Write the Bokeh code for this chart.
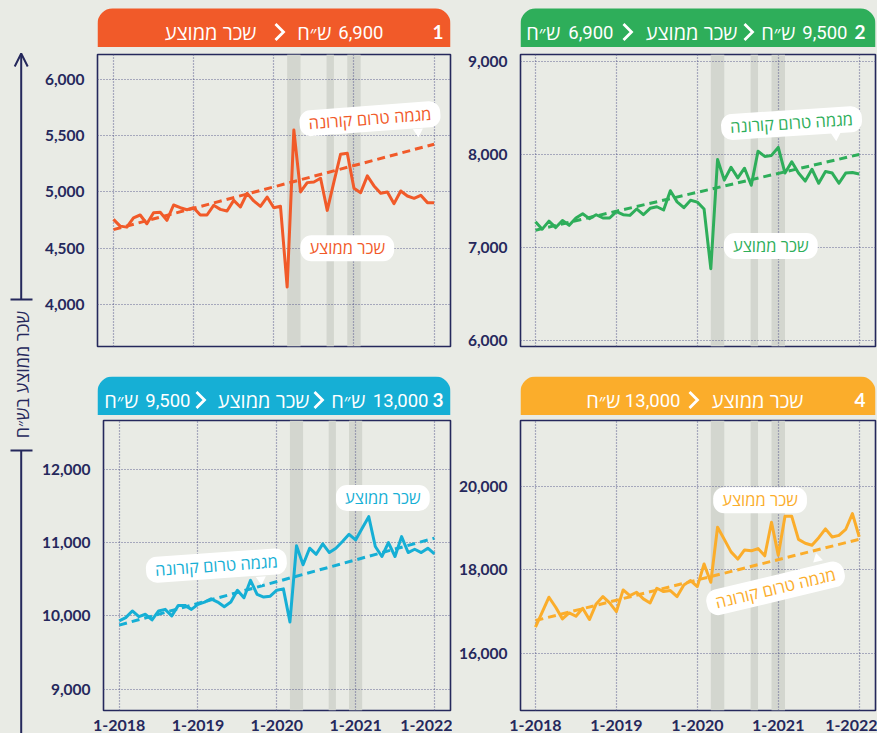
import math
from bokeh.plotting import figure
from bokeh.models import (Range1d, FixedTicker, NumeralTickFormatter, BoxAnnotation,
                          Label, Arrow, OpenHead)
from bokeh.layouts import row, column
from bokeh.embed import file_html
from bokeh.resources import INLINE
from bokeh.core.properties import value

# ---------------- data ----------------
months = list(range(49))                      # Jan 2018 .. Jan 2022
x_ticks = [0, 12, 24, 36, 48]
x_tick_labels = ["1-2018", "1-2019", "1-2020", "1-2021", "1-2022"]
lockdown_start = [26.0, 31.9, 35.0]
lockdown_end = [28.0, 33.0, 37.0]
trend_x = [0, 48]

wage_1 = [4756, 4696, 4687, 4770, 4795, 4717, 4815, 4820, 4747, 4884,
          4860, 4842, 4860, 4795, 4795, 4881, 4845, 4830, 4925, 4866,
          4988, 4920, 4872, 4955, 4860, 4872, 4154, 5551, 5000, 5083,
          5089, 5122, 4836, 5090, 5336, 5345, 5033, 4994, 5143, 5054,
          4988, 5000, 4896, 5009, 4964, 4943, 4970, 4905, 4905]
trend_1 = [4665, 5425]
yticks_1 = [4000, 4500, 5000, 5500, 6000]

wage_2 = [7276, 7197, 7283, 7214, 7290, 7238, 7317, 7362, 7310, 7352,
          7317, 7317, 7386, 7352, 7345, 7414, 7352, 7421, 7438, 7403,
          7610, 7490, 7428, 7507, 7487, 7414, 6772, 7945, 7724, 7862,
          7748, 7852, 7669, 8034, 7979, 7990, 8076, 7800, 7921, 7800,
          7714, 7841, 7690, 7817, 7800, 7690, 7800, 7807, 7790]
trend_2 = [7186, 8000]
yticks_2 = [6000, 7000, 8000, 9000]

wage_3 = [9932, 9977, 10068, 9991, 10023, 9946, 10068, 10090, 10000, 10144,
          10144, 10090, 10158, 10189, 10234, 10189, 10126, 10189, 10351, 10248,
          10486, 10293, 10257, 10270, 10351, 10369, 9919, 10955, 10698, 10923,
          10840, 10982, 10864, 10923, 11014, 11113, 11036, 11195, 11353, 10946,
          10810, 11000, 10810, 11081, 10864, 10909, 10864, 10923, 10846]
trend_3 = [9875, 11060]
yticks_3 = [9000, 10000, 11000, 12000]

wage_4 = [16622, 16980, 17339, 17100, 16821, 16964, 16884, 17076, 16805, 17179,
          17355, 17203, 16996, 17514, 17378, 17458, 17299, 17203, 17554, 17474,
          17498, 17355, 17633, 17737, 17594, 18135, 17697, 19016, 18724, 18425,
          18252, 18472, 18449, 18504, 18331, 19134, 18346, 19276, 19276, 18724,
          18630, 18583, 18764, 18976, 18780, 18819, 18961, 19339, 18787]
trend_4 = [16781, 18725]
yticks_4 = [16000, 18000, 20000]

label_trend = "מגמה טרום קורונה"
label_avg = "שכר ממוצע"
axis_title = "שכר ממוצע בש״ח"
unit = "ש״ח"

header_1 = ["1", "6,900", unit, label_avg]
header_2 = ["2", "9,500", unit, label_avg, "6,900", unit]
header_3 = ["3", "13,000", unit, label_avg, "9,500", unit]
header_4 = ["4", label_avg, "13,000", unit]

# ---------------- style ----------------
BG = "#E9EBE5"
NAVY = "#25285C"
BAND = "#D3D6CF"
GRID = "#55588A"
ORANGE = "#F15A29"
GREEN = "#2EAE5A"
BLUE = "#16AFD5"
AMBER = "#FBAD2B"
HEB = "Open Sans"
NUM = "Lato"
HNUM = "Roboto"
BGSTYLE = {"background-color": BG}

FONT_OF = {"bold": (NUM, "19px", "bold"), "num": (HNUM, "18.5px", "normal"),
           "heb": (HEB, "20px", "normal")}


def header(width, height, box_h, border_left, color, pieces, chevrons):
    fw = width - border_left - 2
    h = figure(width=width, height=height, x_range=Range1d(0, fw), y_range=Range1d(0, height),
               min_border_left=border_left, min_border_right=2, min_border_top=0,
               min_border_bottom=0, output_backend="svg", toolbar_location=None, title=None)
    h.axis.visible = False
    h.grid.visible = False
    h.outline_line_color = None
    h.background_fill_color = BG
    h.border_fill_color = BG
    h.add_layout(BoxAnnotation(left=0, right=fw, bottom=0, top=box_h, fill_color=color,
                               fill_alpha=1, line_color=None, border_radius=(15, 15, 0, 0),
                               level="image"))
    yc = 15.5
    for txt, off, kind in pieces:
        fnt, size, style = FONT_OF[kind]
        h.text(x=[fw - off], y=[yc], text=[txt], text_align="right", text_baseline="middle",
               text_color="white", text_font=value(fnt), text_font_size=size,
               text_font_style=style)
    xs = [[fw - c - 4, fw - c + 4, fw - c - 4] for c in chevrons]
    ys = [[yc + 8, yc, yc - 8] for _ in chevrons]
    if chevrons:
        h.multi_line(xs=xs, ys=ys, line_color="white", line_width=2.8, line_join="miter")
    return h


def panel(width, height, border_left, border_top, border_bottom, xr, values, trend, color,
          yrange, yticks, show_x, labels, pointer):
    p = figure(width=width, height=height, x_range=Range1d(*xr), y_range=Range1d(*yrange),
               min_border_left=border_left, min_border_right=2, min_border_top=border_top,
               min_border_bottom=border_bottom, output_backend="svg", toolbar_location=None,
               title=None)
    p.background_fill_color = BG
    p.border_fill_color = BG
    p.outline_line_color = NAVY
    p.outline_line_width = 1.6
    for s, e in zip(lockdown_start, lockdown_end):
        p.add_layout(BoxAnnotation(left=s, right=e, bottom=yrange[0], top=yrange[1],
                                   fill_color=BAND, fill_alpha=1, line_color=None, level="image"))
    p.xaxis.ticker = FixedTicker(ticks=x_ticks)
    p.xgrid.ticker = FixedTicker(ticks=x_ticks)
    p.xaxis.major_label_overrides = {t: l for t, l in zip(x_ticks, x_tick_labels)}
    p.yaxis.ticker = FixedTicker(ticks=yticks)
    p.ygrid.ticker = FixedTicker(ticks=yticks)
    p.yaxis.formatter = NumeralTickFormatter(format="0,0")
    for ax in (p.xaxis, p.yaxis):
        ax.axis_line_color = None
        ax.major_tick_line_color = None
        ax.minor_tick_line_color = None
        ax.major_label_text_font = NUM
        ax.major_label_text_font_style = "bold"
        ax.major_label_text_color = NAVY
    p.yaxis.major_label_text_font_size = "15.5px"
    p.yaxis.major_label_standoff = 7
    p.xaxis.major_label_text_font_size = "16px"
    p.xaxis.major_label_standoff = 3
    p.xaxis.visible = show_x
    for g in (p.xgrid, p.ygrid):
        g.grid_line_color = GRID
        g.grid_line_dash = "1 2"
        g.grid_line_width = 1.2
        g.grid_line_alpha = 0.9

    p.line(trend_x, trend, line_color=color, line_width=3, line_dash="8 5")
    p.line(months, values, line_color=color, line_width=3, line_join="round")

    px, py, marker, pang = pointer
    p.scatter([px], [py], marker=marker, size=10, angle=pang, fill_color="white",
              line_color=None)
    for txt, lx, ly, ang in labels:
        p.add_layout(Label(x=lx, y=ly, text=txt, angle=ang, text_align="center",
                           text_baseline="middle", text_color=color, text_font=HEB,
                           text_font_size="16.5px", background_fill_color="white",
                           background_fill_alpha=1, border_radius=11,
                           padding=dict(left=9, right=9, top=1, bottom=2)))
    return p


# ---------------- layout ----------------
W_LEFT, W_P1, W_P2 = 38, 414, 425
BL1, BL2 = 59, 68
H_HDR1, H_HDR3, H_TOP, H_BOT = 47, 39, 329, 318
XR1 = (-2.39, 50.45)
XR2 = (-2.22, 50.42)

hdr1 = header(W_P1, H_HDR1, 39, BL1, ORANGE,
              [(header_1[0], 7, "bold"), (header_1[1], 67, "num"), (header_1[2], 119, "heb"),
               (header_1[3], 194, "heb")], [171])
hdr2 = header(W_P2, H_HDR1, 39, BL2, GREEN,
              [(header_2[0], 10, "bold"), (header_2[1], 28, "num"), (header_2[2], 80, "heb"),
               (header_2[3], 138, "heb"), (header_2[4], 262, "num"), (header_2[5], 315, "heb")],
              [127, 248])
hdr3 = header(W_P1, H_HDR3, 39, BL1, BLUE,
              [(header_3[0], 7, "bold"), (header_3[1], 22, "num"), (header_3[2], 85, "heb"),
               (header_3[3], 141, "heb"), (header_3[4], 260, "num"), (header_3[5], 312, "heb")],
              [132, 250])
hdr4 = header(W_P2, H_HDR3, 39, BL2, AMBER,
              [(header_4[0], 10, "bold"), (header_4[1], 72, "heb"), (header_4[2], 195, "num"),
               (header_4[3], 255, "heb")], [182])

p1 = panel(W_P1, H_TOP, BL1, 7, 30, XR1, wage_1, trend_1, ORANGE, (3625, 6223), yticks_1, False,
           [(label_trend, 38.4, 5652, 0.075), (label_avg, 35.0, 4500, 0.0)],
           (45.6, 5536, "inverted_triangle", 0.075))
p2 = panel(W_P2, H_TOP, BL2, 7, 30, XR2, wage_2, trend_2, GREEN, (5935, 9075), yticks_2, False,
           [(label_trend, 37.97, 8338, 0.065), (label_avg, 34.9, 7016, 0.0)],
           (44.55, 8204, "inverted_triangle", 0.065))
p3 = panel(W_P1, H_BOT, BL1, 5, 22, XR1, wage_3, trend_3, BLUE, (8712, 12663), yticks_3, True,
           [(label_trend, 14.8, 10686, 0.07), (label_avg, 40.15, 11606, 0.0)],
           (21.6, 10497, "inverted_triangle", 0.07))
p4 = panel(W_P2, H_BOT, BL2, 5, 22, XR2, wage_4, trend_4, AMBER, (14628, 21569), yticks_4, True,
           [(label_trend, 35.6, 17552, 0.235), (label_avg, 33.3, 19660, 0.0)],
           (41.8, 18265, "triangle", 0.235))

TOTAL_H = H_HDR1 + H_HDR3 + H_TOP + H_BOT
lf = figure(width=W_LEFT, height=TOTAL_H, x_range=Range1d(0, W_LEFT),
            y_range=Range1d(TOTAL_H, 0), min_border=0, output_backend="svg",
            toolbar_location=None, title=None)
lf.axis.visible = False
lf.grid.visible = False
lf.outline_line_color = None
lf.background_fill_color = BG
lf.border_fill_color = BG
lx = 20.7
lf.add_layout(Arrow(end=OpenHead(size=13, line_color=NAVY, line_width=2), x_start=lx, y_start=299,
                    x_end=lx, y_end=53, line_color=NAVY, line_width=2))
lf.segment(x0=[10, 10, lx], y0=[299, 450, 450], x1=[32, 32, lx], y1=[299, 450, TOTAL_H],
           line_color=NAVY, line_width=2)
lf.text(x=[lx + 1], y=[374], text=[axis_title], angle=math.pi / 2, text_align="center",
        text_baseline="middle", text_color=NAVY, text_font=value(HEB), text_font_size="18px")

layout = row(lf,
             column(row(hdr1, hdr2, styles=BGSTYLE), row(p1, p2, styles=BGSTYLE),
                    row(hdr3, hdr4, styles=BGSTYLE), row(p3, p4, styles=BGSTYLE),
                    styles=BGSTYLE),
             styles=BGSTYLE)

open("out.html", "w").write(file_html(layout, INLINE))
